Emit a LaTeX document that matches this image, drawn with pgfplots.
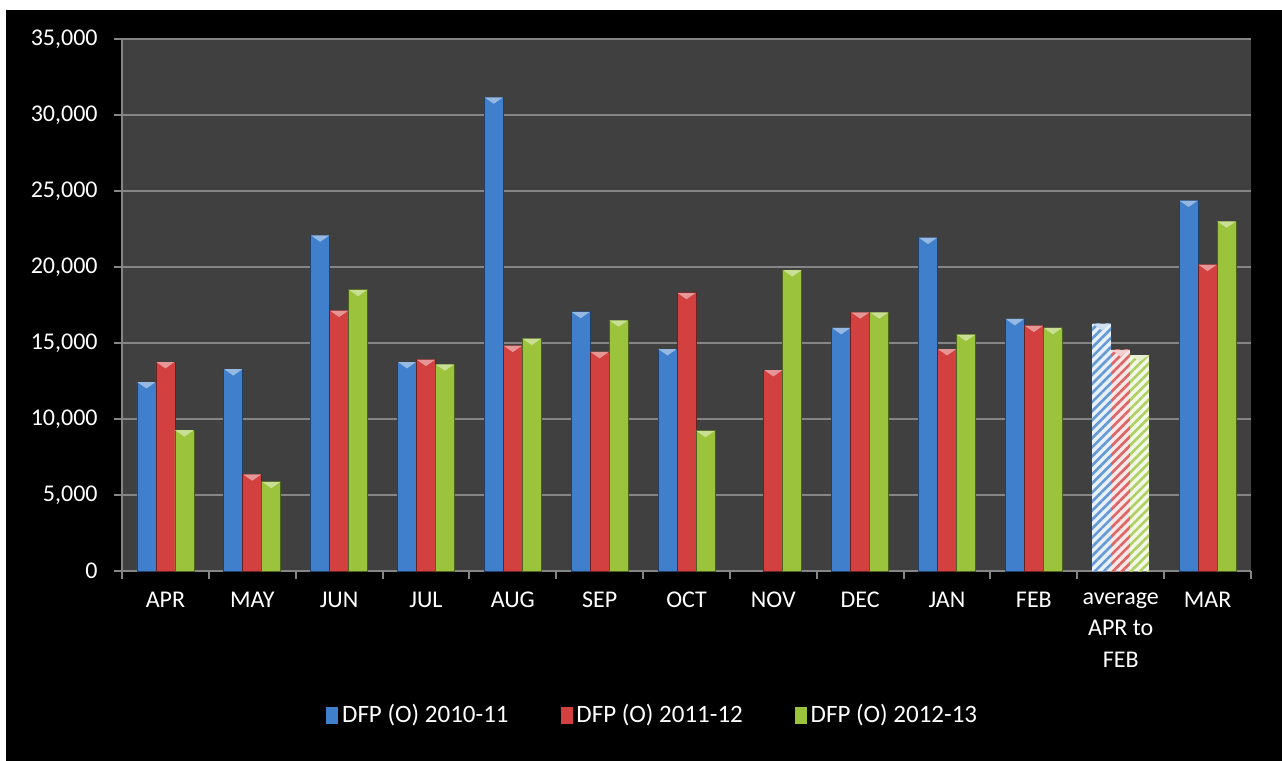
\documentclass[border=0pt]{standalone}
\usepackage{pgfplots}
\usepackage{pgfplotstable}
\pgfplotsset{compat=1.18}
\usetikzlibrary{patterns.meta}
\usepackage{fontspec}
\setmainfont{Carlito}

\definecolor{plotbg}{HTML}{404040}
\definecolor{gridc}{HTML}{858585}
\definecolor{sblue}{HTML}{3F7FCC}
\definecolor{sred}{HTML}{D2403F}
\definecolor{sgreen}{HTML}{9BC43C}

% flat triangle cap on top of each bar
\pgfdeclareplotmark{bevel}{%
  \pgfpathmoveto{\pgfqpoint{-4.6pt}{0pt}}%
  \pgfpathlineto{\pgfqpoint{4.6pt}{0pt}}%
  \pgfpathlineto{\pgfqpoint{0pt}{-3.2pt}}%
  \pgfpathclose\pgfusepathqfill}

\pgfplotstableread{
x y
0 12430
1 13280
2 22080
3 13750
4 31160
5 17050
6 14600
8 15990
9 21930
10 16580
12 24370
}\bluedata
\pgfplotstableread{
x y
0 13750
1 6360
2 17130
3 13900
4 14820
5 14410
6 18300
7 13220
8 17020
9 14600
10 16140
12 20150
}\reddata
\pgfplotstableread{
x y
0 9260
1 5870
2 18500
3 13600
4 15280
5 16490
6 9220
7 19790
8 17020
9 15550
10 15990
12 23000
}\greendata

\pgfplotsset{
  mybar/.style={ybar, bar width=9.5pt, draw=#1!50!black, line width=0.4pt, fill=#1,
    legend image code/.code={\fill[#1] (0pt,-4pt) rectangle (5.5pt,4pt);}},
  avgbar/.style={ybar, bar width=9.5pt, draw=none, fill=#1!12!white,
    postaction={pattern={Lines[angle=45, distance=3.2pt, line width=1.3pt]}, pattern color=#1!80!white}},
  cap/.style 2 args={only marks, mark=bevel, mark options={fill=#1, draw=none, xshift=#2}, forget plot},
}

\begin{document}
\fontsize{12}{15.75}\selectfont
\begin{tikzpicture}[x=1pt,y=1pt]
\fill[white] (-61,-95) rectangle (580,285.5);
\fill[black] (-58,-95) rectangle (580,280.5);
\begin{axis}[
    at={(0,0)}, anchor=south west,
    scale only axis, width=564.5pt, height=266pt,
    xmin=-0.5, xmax=12.5, ymin=0, ymax=35000,
    ytick={0,5000,...,35000},
    xtick={0,...,12},
    xticklabels={APR,MAY,JUN,JUL,AUG,SEP,OCT,NOV,DEC,JAN,FEB,{average\\APR to\\FEB},MAR},
    minor xtick={-0.5,0.5,...,12.5},
    tick align=outside, major tick length=4pt, minor tick length=4pt,
    major x tick style={draw=none},
    axis x line*=bottom, axis y line*=left,
    axis line style={gridc, line width=1pt, -},
    tick style={gridc, line width=1pt},
    ymajorgrids, grid style={gridc, line width=1pt},
    axis background/.style={fill=plotbg},
    ticklabel style={white, font=\fontsize{12}{15.75}\selectfont},
    xticklabel style={align=center, yshift=-2.5pt},
    yticklabel style={xshift=-4pt},
    /pgf/number format/1000 sep={,},
    /pgf/number format/assume math mode=true,
    scaled y ticks=false,
    legend columns=3,
    legend style={draw=none, fill=none, text=white,
      font=\fontsize{12.5}{15.75}\selectfont,
      at={(axis description cs:0.471,-0.271)}, anchor=center,
      /tikz/every even column/.append style={column sep=24pt}},
]
\addplot[mybar=sblue, bar shift=-9.5pt] table {\bluedata};
\addplot[mybar=sred, bar shift=0pt] table {\reddata};
\addplot[mybar=sgreen, bar shift=9.5pt] table {\greendata};
% average APR to FEB
\addplot[avgbar=sblue, bar shift=-9.5pt, forget plot] coordinates {(11,16270)};
\addplot[avgbar=sred, bar shift=0pt, forget plot] coordinates {(11,14540)};
\addplot[avgbar=sgreen, bar shift=9.5pt, forget plot] coordinates {(11,14210)};
% bevel caps
\addplot[cap={sblue!55!white}{-9.5pt}] table {\bluedata};
\addplot[cap={sred!55!white}{0pt}] table {\reddata};
\addplot[cap={sgreen!55!white}{9.5pt}] table {\greendata};
\addplot[cap={sblue!25!white}{-9.5pt}] coordinates {(11,16270)};
\addplot[cap={sred!25!white}{0pt}] coordinates {(11,14540)};
\addplot[cap={sgreen!25!white}{9.5pt}] coordinates {(11,14210)};
\legend{DFP (O) 2010-11, DFP (O) 2011-12, DFP (O) 2012-13}
\end{axis}
\end{tikzpicture}
\end{document}
